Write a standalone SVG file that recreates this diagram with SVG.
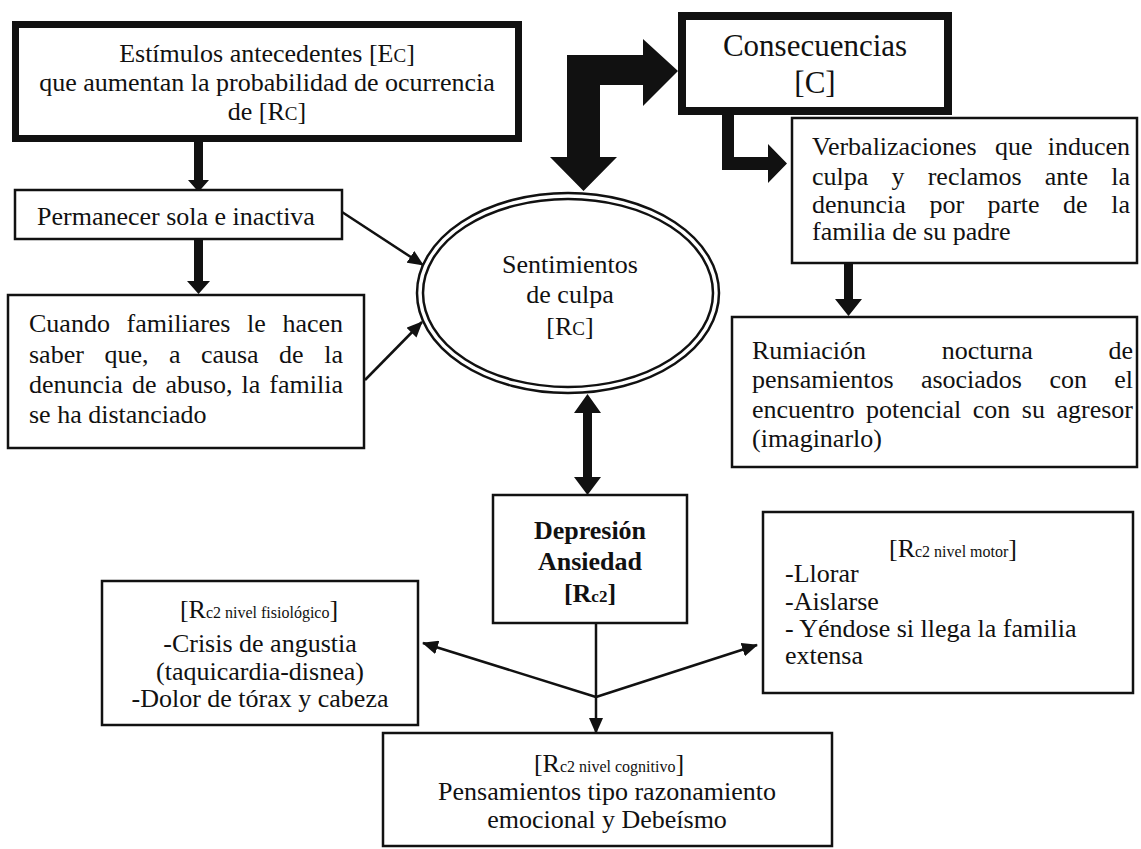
<svg xmlns="http://www.w3.org/2000/svg" width="1141" height="849" viewBox="0 0 1141 849">
<defs>
<style>
.t{font-family:"Liberation Serif","Times New Roman",serif;font-size:26px;fill:#111}
.big{font-size:31px}
.c{text-anchor:middle}
.e{text-anchor:end}
.b{font-weight:bold}
.box{fill:#fff;stroke:#111;stroke-width:2.5}
.thick{fill:#fff;stroke:#111}
.ln{stroke:#111;stroke-width:2.5;fill:none}
.fill{fill:#111;stroke:none}
</style>
<marker id="ah" markerUnits="userSpaceOnUse" markerWidth="16" markerHeight="14" refX="15" refY="7" orient="auto">
<path d="M0,0 L16,7 L0,14 z" fill="#111"/>
</marker>
</defs>
<rect width="1141" height="849" fill="#fff"/>

<g id="connectors">
<polygon class="fill" points="194,142 203,142 203,180 209,180 198.5,192 188,180 194,180"/>
<polygon class="fill" points="194,239 203,239 203,281 210,281 198.5,294 187,281 194,281"/>
<polygon class="fill" points="567,55 643,55 643,39 678,71 643,106 643,85 600,85 600,157 617,157 583.5,191 550,157 567,157"/>
<polygon class="fill" points="722,115 734,115 734,157 768,157 768,144 787,163.5 768,183 768,170 722,170"/>
<polygon class="fill" points="844,263 853,263 853,299 862,299 848.5,316 835,299 844,299"/>
<polygon class="fill" points="583,413 574,413 587.5,394 601,413 592,413 592,477 601,477 587.5,495 574,477 583,477"/>
<line class="ln" x1="342" y1="212" x2="423" y2="265" marker-end="url(#ah)"/>
<line class="ln" x1="365" y1="380" x2="422" y2="322" marker-end="url(#ah)"/>
<line class="ln" x1="596" y1="623" x2="596" y2="733" marker-end="url(#ah)"/>
<line class="ln" x1="596" y1="697" x2="423" y2="643" marker-end="url(#ah)"/>
<line class="ln" x1="596" y1="697" x2="757" y2="645" marker-end="url(#ah)"/>
</g>

<g id="estimulos">
<rect class="thick" x="15.5" y="24.5" width="503" height="114" stroke-width="7"/>
<text class="t c" x="267" y="62">Estímulos antecedentes [E<tspan font-size="19">C</tspan>]</text>
<text class="t c" x="267" y="91">que aumentan la probabilidad de ocurrencia</text>
<text class="t c" x="267" y="120">de [R<tspan font-size="19">C</tspan>]</text>
</g>

<g id="consecuencias">
<rect class="thick" x="682" y="16" width="266" height="95" stroke-width="8"/>
<text class="t big c" x="815" y="56">Consecuencias</text>
<text class="t big c" x="815" y="93">[C]</text>
</g>

<g id="permanecer">
<rect class="box" x="15" y="190" width="327" height="49"/>
<text class="t" x="37" y="225">Permanecer sola e inactiva</text>
</g>

<g id="cuando">
<rect class="box" x="8" y="295" width="356" height="153"/>
<text class="t" y="332"><tspan x="29">Cuando</tspan><tspan x="126.5">familiares</tspan><tspan x="247">le</tspan><tspan x="343" class="e">hacen</tspan></text>
<text class="t" y="363"><tspan x="29">saber</tspan><tspan x="104.4">que,</tspan><tspan x="168.9">a</tspan><tspan x="200.9">causa</tspan><tspan x="279.1">de</tspan><tspan x="343" class="e">la</tspan></text>
<text class="t" y="393"><tspan x="29">denuncia</tspan><tspan x="131.9">de</tspan><tspan x="165.4">abuso,</tspan><tspan x="241.6">la</tspan><tspan x="343" class="e">familia</tspan></text>
<text class="t" x="29" y="423">se ha distanciado</text>
</g>

<g id="sentimientos">
<ellipse cx="568" cy="293" rx="151" ry="100" fill="#fff" stroke="#111" stroke-width="2.5"/>
<ellipse cx="568" cy="293" rx="145" ry="94" fill="none" stroke="#111" stroke-width="2.5"/>
<text class="t c" x="570" y="273">Sentimientos</text>
<text class="t c" x="570" y="303">de culpa</text>
<text class="t c" x="570" y="335">[R<tspan font-size="19">C</tspan>]</text>
</g>

<g id="verbalizaciones">
<rect class="box" x="792" y="118" width="345" height="145"/>
<text class="t" y="155"><tspan x="812">Verbalizaciones</tspan><tspan x="994.9">que</tspan><tspan x="1130" class="e">inducen</tspan></text>
<text class="t" y="185"><tspan x="812">culpa</tspan><tspan x="891.5">y</tspan><tspan x="927.7">reclamos</tspan><tspan x="1044.8">ante</tspan><tspan x="1130" class="e">la</tspan></text>
<text class="t" y="213"><tspan x="812">denuncia</tspan><tspan x="929.4">por</tspan><tspan x="987.6">parte</tspan><tspan x="1063.1">de</tspan><tspan x="1130" class="e">la</tspan></text>
<text class="t" x="812" y="240">familia de su padre</text>
</g>

<g id="rumiacion">
<rect class="box" x="732" y="317" width="405" height="150"/>
<text class="t" y="359"><tspan x="752">Rumiación</tspan><tspan x="941.8">nocturna</tspan><tspan x="1133" class="e">de</tspan></text>
<text class="t" y="388"><tspan x="752">pensamientos</tspan><tspan x="920.9">asociados</tspan><tspan x="1049.4">con</tspan><tspan x="1133" class="e">el</tspan></text>
<text class="t" y="418"><tspan x="752">encuentro</tspan><tspan x="866">potencial</tspan><tspan x="972.8">con</tspan><tspan x="1021.8">su</tspan><tspan x="1133" class="e">agresor</tspan></text>
<text class="t" x="752" y="447">(imaginarlo)</text>
</g>

<g id="depresion">
<rect class="box" x="493" y="495" width="194" height="128"/>
<text class="t c b" x="590" y="539">Depresión</text>
<text class="t c b" x="590" y="570">Ansiedad</text>
<text class="t c b" x="590" y="602">[R<tspan font-size="17">c2</tspan>]</text>
</g>

<g id="fisiologico">
<rect class="box" x="102" y="581" width="316" height="144"/>
<text class="t c" x="259" y="618">[R<tspan font-size="16">c2 nivel fisiológico</tspan>]</text>
<text class="t c" x="260" y="652">-Crisis de angustia</text>
<text class="t c" x="260" y="680">(taquicardia-disnea)</text>
<text class="t c" x="260" y="707">-Dolor de tórax y cabeza</text>
</g>

<g id="motor">
<rect class="box" x="763" y="512" width="370" height="181"/>
<text class="t c" x="953" y="557">[R<tspan font-size="16">c2 nivel motor</tspan>]</text>
<text class="t" x="785" y="582">-Llorar</text>
<text class="t" x="785" y="610">-Aislarse</text>
<text class="t" x="785" y="637">- Yéndose si llega la familia</text>
<text class="t" x="785" y="664">extensa</text>
</g>

<g id="cognitivo">
<rect class="box" x="383" y="733" width="449" height="113"/>
<text class="t c" x="609" y="772">[R<tspan font-size="16">c2 nivel cognitivo</tspan>]</text>
<text class="t c" x="607" y="800">Pensamientos tipo razonamiento</text>
<text class="t c" x="607" y="828">emocional y Debeísmo</text>
</g>
</svg>
